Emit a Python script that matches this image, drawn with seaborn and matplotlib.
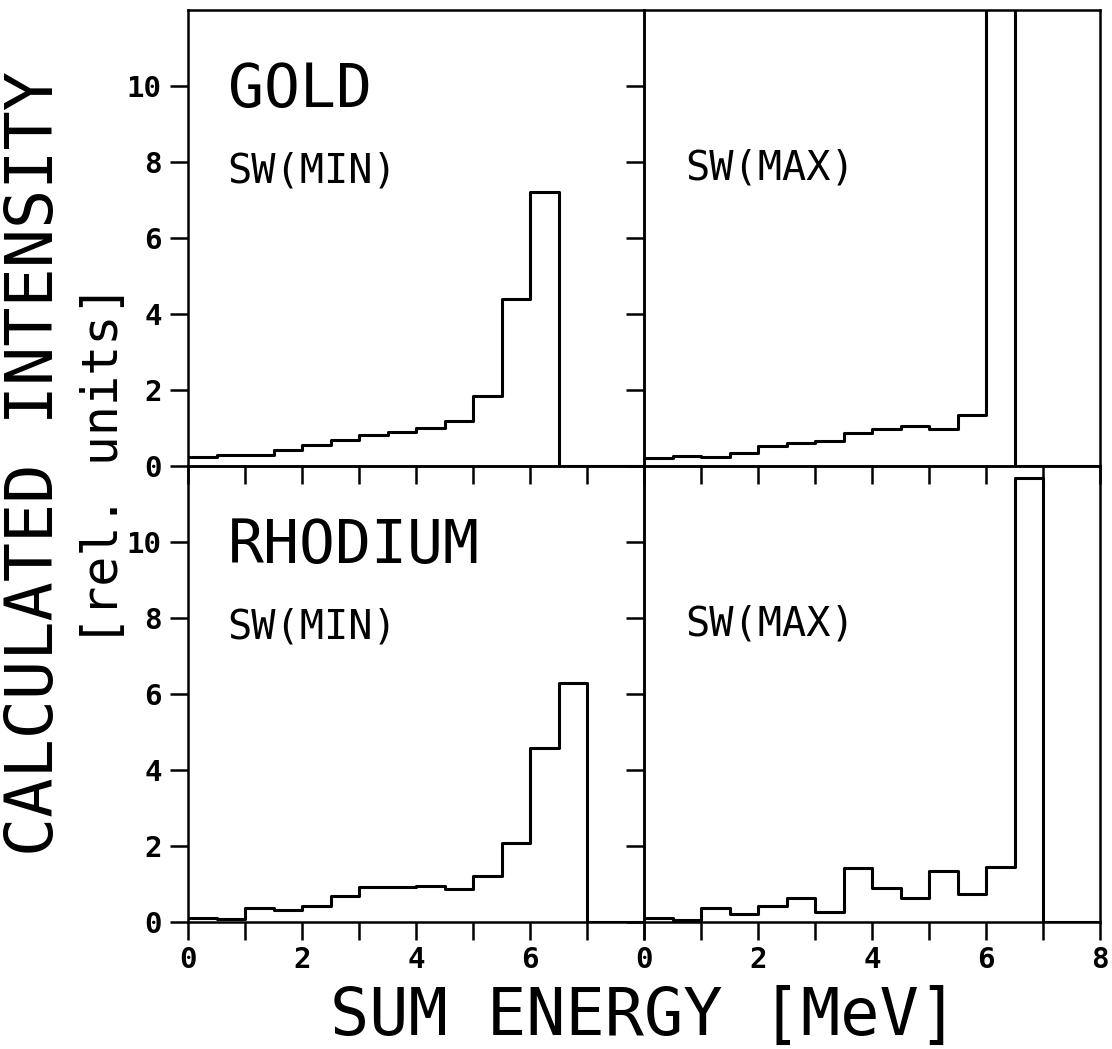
import numpy as np
import pandas as pd
import matplotlib
matplotlib.use("Agg")
import matplotlib.pyplot as plt
import seaborn as sns

# ---- data ----
bin_edges = [0.0, 0.5, 1.0, 1.5, 2.0, 2.5, 3.0, 3.5, 4.0,
             4.5, 5.0, 5.5, 6.0, 6.5, 7.0, 7.5, 8.0]
gold_min = [0.23, 0.30, 0.30, 0.42, 0.55, 0.68, 0.82, 0.90, 0.99, 1.19,
            1.85, 4.40, 7.22, 0.0, 0.0, 0.0]
gold_max = [0.20, 0.27, 0.24, 0.34, 0.52, 0.60, 0.66, 0.86, 0.97, 1.05,
            0.98, 1.33, 14.0, 0.0, 0.0, 0.0]
rh_min = [0.10, 0.07, 0.36, 0.32, 0.42, 0.68, 0.91, 0.91, 0.96, 0.88,
          1.22, 2.09, 4.57, 6.29, 0.0, 0.0]
rh_max = [0.10, 0.04, 0.38, 0.21, 0.42, 0.63, 0.27, 1.43, 0.89, 0.62,
          1.33, 0.75, 1.46, 11.68, 0.0, 0.0]

x_ticks = [0, 1, 2, 3, 4, 5, 6, 7, 8]
x_ticklabels_left = ["0", "", "2", "", "4", "", "6", "", ""]
x_ticklabels_right = ["0", "", "2", "", "4", "", "6", "", "8"]
y_ticks = [0, 2, 4, 6, 8, 10]
y_ticklabels = ["0", "2", "4", "6", "8", "10"]

element_labels = ["GOLD", "RHODIUM"]
sw_labels = ["SW(MIN)", "SW(MAX)"]
x_title = "SUM ENERGY [MeV]"
y_title = "CALCULATED INTENSITY"
y_subtitle = "[rel. units]"

# ---- style ----
sns.set_style("white")
plt.rcParams["font.family"] = ["DejaVu Sans Mono", "DejaVu Sans"]
plt.rcParams["axes.linewidth"] = 1.8

W, H = 1112, 1049
fig = plt.figure(figsize=(W / 100, H / 100), dpi=100)

left0 = 188 / W
wid = 456 / W
left1 = 644 / W
hgt = 456 / H
bot_top = 1 - 466 / H
bot_bot = 1 - 922 / H

panels = [
    (left0, bot_top, gold_min, 0, 0),
    (left1, bot_top, gold_max, 0, 1),
    (left0, bot_bot, rh_min, 1, 0),
    (left1, bot_bot, rh_max, 1, 1),
]

lefts = bin_edges[:-1]
for (l, b, vals, row, col) in panels:
    ax = fig.add_axes([l, b, wid, hgt])
    ax.patch.set_facecolor("none")
    df = pd.DataFrame({"energy": lefts, "intensity": vals})
    sns.histplot(data=df, x="energy", weights="intensity", bins=bin_edges,
                 element="step", fill=False, color="black", linewidth=2.2,
                 ax=ax)
    ax.set_xlim(0, 8)
    ax.set_ylim(0, 12)
    ax.set_xlabel("")
    ax.set_ylabel("")
    for sp in ax.spines.values():
        sp.set_color("black")
        sp.set_linewidth(1.8)
        sp.set_visible(True)
    ax.set_xticks(x_ticks)
    ax.set_yticks(y_ticks)
    ax.tick_params(axis="both", direction="out", length=13, width=1.8,
                   color="black", labelcolor="black", bottom=True, left=True,
                   top=False, right=False)
    ax.tick_params(axis="x", pad=4)
    ax.tick_params(axis="y", pad=6)
    if row == 1:
        ax.set_xticklabels(x_ticklabels_left if col == 0 else x_ticklabels_right,
                           fontsize=21, fontweight="bold")
    else:
        ax.set_xticklabels([])
    if col == 0:
        ax.set_yticklabels(y_ticklabels, fontsize=21, fontweight="bold")
        ax.text(0.70, 9.45, element_labels[row], fontsize=43,
                ha="left", va="baseline", color="black")
        ax.text(0.68, 7.47, sw_labels[0], fontsize=29,
                ha="left", va="baseline", color="black")
    else:
        ax.set_yticklabels([])
        ax.text(0.72, 7.53, sw_labels[1], fontsize=29,
                ha="left", va="baseline", color="black")
    ax.grid(False)

fig.text(644 / W, 1 - 1035 / H, x_title, fontsize=47, ha="center",
         va="baseline", color="black")
fig.text(53 / W, 1 - 463 / H, y_title, fontsize=47, rotation=90,
         rotation_mode="anchor", ha="center", va="baseline", color="black")
fig.text(118 / W, 1 - 465 / H, y_subtitle, fontsize=36, rotation=90,
         rotation_mode="anchor", ha="center", va="baseline", color="black")

fig.savefig("out.png", dpi=100, facecolor="white")
